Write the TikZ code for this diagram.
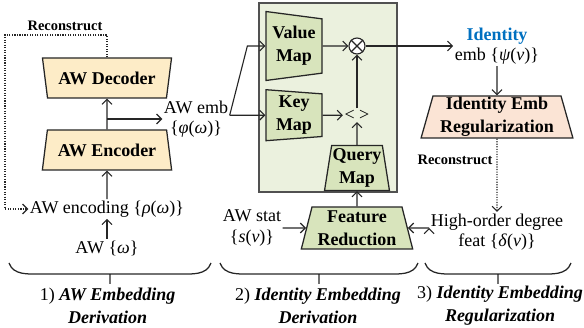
\documentclass[tikz,border=0pt]{standalone}
\usepackage{fontspec}
\setmainfont{Liberation Serif}
\usepackage{tikz}
\usepackage{xcolor}
\usetikzlibrary{shapes.geometric,arrows.meta,positioning}
\definecolor{awyellow}{RGB}{253,236,199}
\definecolor{mapgreen}{RGB}{216,228,188}
\definecolor{panelgreen}{RGB}{235,241,222}
\definecolor{regpeach}{RGB}{251,228,213}
\definecolor{idblue}{RGB}{0,112,192}
\definecolor{edgegray}{RGB}{38,38,38}
\tikzset{
        trap/.style={
            trapezium, draw=edgegray, line width=0.9pt,
            trapezium stretches=true, inner sep=0pt,
            align=center, font=\fontsize{12.8}{16.4}\selectfont\bfseries
        },
        awbox/.style={
            trap, fill=awyellow, trapezium angle=72,
            minimum width=3.25cm, minimum height=1cm
        },
        mapbox/.style={
            trap, fill=mapgreen
        },
        regbox/.style={
            trap, fill=regpeach, trapezium angle=75,
            minimum width=3.8cm, minimum height=1.05cm
        },
        txt/.style={
            align=center, inner sep=1pt,
            font=\fontsize{12.8}{14.5}\selectfont
        },
        note/.style={
            inner sep=0pt,
            font=\fontsize{10.3}{12}\selectfont\bfseries
        },
        line/.style={
            draw=edgegray, line width=0.8pt, ->
        },
        recon/.style={
            line, densely dotted
        },
        brace/.style={
            draw=edgegray, line width=0.9pt
        },
        stage/.style={
            align=center, inner sep=0pt,
            font=\fontsize{12.8}{16.4}\selectfont
        }
    }

\begin{document}
\begin{tikzpicture}[
    > = {Straight Barb[length=3.5pt,width=7pt]},
  ]
    \useasboundingbox (0,0) rectangle (14.6,8.2);
    \node[draw=edgegray!80, fill=panelgreen, line width=0.8pt, inner sep=0pt,
          minimum width=3.45cm, minimum height=4.725cm] (panel) at (8.2,5.7625) {};

    % stage 1
    \node[awbox, trapezium angle=108] (dec) at (2.675,6.25) {AW Decoder};
    \node[awbox] (enc) at (2.675,4.45) {AW Encoder};
    \node[txt] (code) at (2.675,2.975) {AW encoding \{\textit{ρ}(\textit{ω})\}};
    \node[txt] (aw) at (2.675,2.0) {AW \{\textit{ω}\}};
    \node[txt] (awemb) at (4.9,5.225) {AW emb\\\{\textit{φ}(\textit{ω})\}};
    \node[note] (rec1) at (1.625,7.55) {Reconstruct};

    % stage 2
    \node[mapbox, trapezium angle=83, shape border rotate=270,
          minimum width=1.725cm, minimum height=1.4cm] (value) at (7.35,7.05) {Value\\Map};
    \node[mapbox, trapezium angle=84, shape border rotate=270,
          minimum width=1.275cm, minimum height=1.4cm] (key) at (7.35,5.32) {Key\\Map};
    \node[draw=edgegray, circle, fill=white, line width=0.8pt, inner sep=0pt,
          minimum size=0.4cm] (mul) at (8.925,7.05) {};
    \node[txt] (dot) at (8.925,5.32) {<\ >};
    \node[mapbox, trapezium angle=80, minimum width=1.625cm,
          minimum height=1.125cm] (query) at (8.925,4.0) {Query\\Map};
    \node[mapbox, trapezium angle=75, minimum width=2.8cm,
          minimum height=1.05cm] (feat) at (8.925,2.5) {Feature\\Reduction};
    \node[txt] (stat) at (6.3,2.5) {AW stat\\\{\textit{s}(\textit{v})\}};

    % stage 3
    \node[txt] (ident) at (12.425,7.05) {\textcolor{idblue}{\textbf{Identity}}\\emb \{\textit{ψ}(\textit{v})\}};
    \node[regbox] (reg) at (12.425,5.275) {Identity Emb\\Regularization};
    \node[note] (rec2) at (11.375,4.2) {Reconstruct};
    \node[txt] (high) at (12.425,2.4) {High-order degree\\feat \{\textit{δ}(\textit{v})\}};

    \draw[edgegray, line width=0.8pt] (mul.north west) -- (mul.south east)
        (mul.north east) -- (mul.south west);

    \coordinate (fork) at (enc.north |- awemb.west);
    \coordinate (split) at (awemb.east |- key.west);
    \coordinate (bend) at ([xshift=-0.45cm]value.west);
    \coordinate (r1) at (0.125,7.325);

    \path[line]
    (enc) edge (dec)
    (code) edge (enc)
    (aw) edge (code)
    (fork) edge (awemb)
    (split) edge (key)
    (value) edge (mul)
    (key) edge (dot)
    (dot) edge (mul)
    (query) edge (dot)
    (feat) edge (query)
    (stat) edge (feat)
    (high.west |- feat) edge (feat)
    (mul) edge (ident)
    (ident) edge (reg);
    \draw[line] (split) -- (bend) -- (value);

    \draw[recon] (dec.north) |- (r1) |- (code.west);
    \draw[recon] (reg) -- (high);

    % braces
    \foreach \a/\b/\m in {0.225/5.275/2.75, 5.5/10.45/7.975, 10.625/14.275/12.45}
      \draw[brace] (\a,1.625) to[out=-70,in=180] (\a+0.8,1.35) -- (\b-0.8,1.35)
        to[out=0,in=-110] (\b,1.625) (\m,1.35) -- (\m,1.1);

    \node[stage] (lab1) at (2.69,0.5625) {1) \textbf{\textit{AW Embedding}}\\\textbf{\textit{Derivation}}};
    \node[stage] (lab2) at (7.95,0.5625) {2) \textbf{\textit{Identity Embedding}}\\\textbf{\textit{Derivation}}};
    \node[stage] (lab3) at (12.5,0.5625) {3) \textbf{\textit{Identity Embedding}}\\\textbf{\textit{Regularization}}};

\end{tikzpicture}
\end{document}
